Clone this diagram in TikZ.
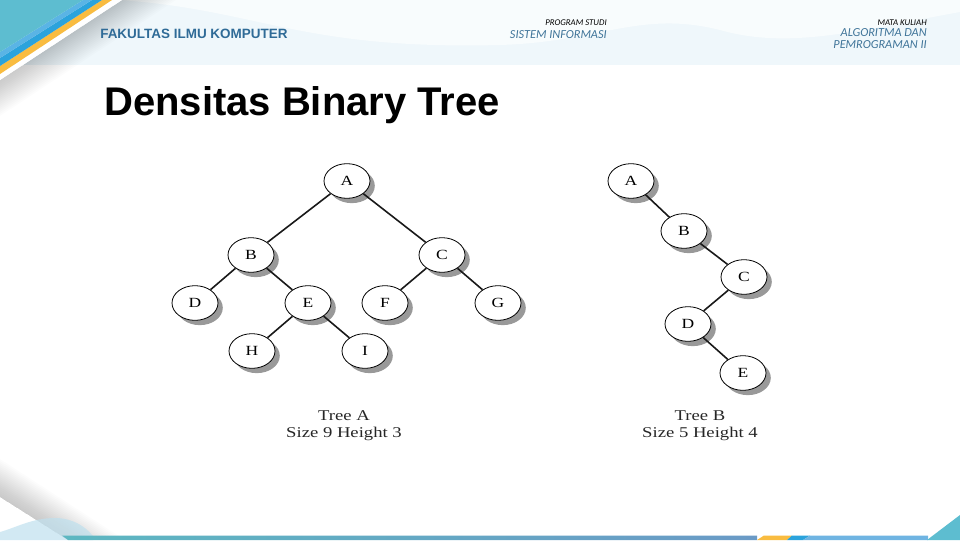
\documentclass[tikz,border=0pt]{standalone}
\usepackage{fontspec}
\setmainfont{Liberation Sans}
\newfontfamily\treefont[FakeStretch=1.25]{Liberation Serif}
\newfontfamily\headfont{Carlito}
\usetikzlibrary{shadows,shapes.geometric}
\definecolor{headblue}{HTML}{2F6B97}
\definecolor{subblue}{HTML}{3F7499}
\definecolor{band}{HTML}{EFF7FB}
\definecolor{bandlight}{HTML}{F8FCFD}
\definecolor{cornerteal}{HTML}{5DBDD0}
\definecolor{cornerlight}{HTML}{5AB4E5}
\definecolor{cornerblue}{HTML}{2BA3DC}
\definecolor{corneryellow}{HTML}{F9BC40}
\definecolor{stripteal}{HTML}{5DB7C1}
\definecolor{stripmid}{HTML}{6A9AC6}
\definecolor{stripblue}{HTML}{6FB4E2}
\definecolor{hill}{HTML}{BFE0EE}
\begin{document}
\begin{tikzpicture}[x=0.75pt,y=-0.75pt,
  treenode/.style={ellipse,draw=black,line width=0.6pt,fill=white,minimum width=34.5pt,minimum height=26pt,inner sep=0pt,font=\treefont\fontsize{10.5}{12}\selectfont,general shadow={fill=black!40,shadow xshift=3.6pt,shadow yshift=-3.6pt}},
  treeedge/.style={line width=1.2pt,black!90},
  caption/.style={font=\treefont\fontsize{11.2}{13}\selectfont,black!85,inner sep=0pt}]

\useasboundingbox (0,0) rectangle (960,540);

% header
\fill[band] (0,0) rectangle (960,65);
\fill[bandlight] (120,0) .. controls (260,10) and (300,50) .. (500,45) .. controls (600,42) and (640,10) .. (720,30) .. controls (790,50) and (860,30) .. (960,12) -- (960,0) -- cycle;

% corner
\foreach \d in {2,4,...,36}
  \fill[black,opacity=0.012] (0,80) -- (122,0) -- (122+1.5*\d,0) -- (0,80+\d) -- cycle;
\fill[white] (0,74) -- (112,0) -- (122,0) -- (0,80) -- cycle;
\fill[corneryellow] (0,66) -- (102,0) -- (112,0) -- (0,74) -- cycle;
\fill[cornerblue] (0,58) -- (92,0) -- (102,0) -- (0,66) -- cycle;
\fill[cornerlight] (0,52) -- (83,0) -- (92,0) -- (0,58) -- cycle;
\fill[cornerteal] (0,0) -- (83,0) -- (0,52) -- cycle;

% footer
\foreach \d in {2,4,...,38}
  \fill[black,opacity=0.012] (0,497) -- (68,540) -- (68+1.5*\d,540) -- (0,497-\d) -- cycle;
\fill[hill,opacity=0.7] (0,532) .. controls (15,528) and (32,518) .. (55,518) .. controls (72,518) and (85,526) .. (93,536) -- (93,540) -- (0,540) -- cycle;
\shade[left color=stripteal,right color=stripmid] (62,535.5) -- (757,535.5) -- (757,540) -- (68,540) -- cycle;
\fill[corneryellow] (757,540) -- (764,535.5) -- (792,535.5) -- (787,540) -- cycle;
\fill[cornerblue] (787,540) -- (792,535.5) -- (810,535.5) -- (803,540) -- cycle;
\fill[stripblue] (803,540) -- (810,535.5) -- (928,535.5) -- (928,540) -- cycle;
\fill[cornerteal] (927,540) -- (960,515) -- (960,540) -- cycle;

% header text
\node[anchor=west,inner sep=0pt,headblue,font=\bfseries\fontsize{10.1}{12}\selectfont] (fak) at (100,34) {FAKULTAS ILMU KOMPUTER};
\node[anchor=east,inner sep=0pt,font=\headfont\itshape\fontsize{6.6}{7}\selectfont] (prodi) at (607,23) {PROGRAM STUDI};
\node[anchor=east,inner sep=0pt,subblue,font=\headfont\itshape\fontsize{9.2}{11}\selectfont] (si) at (607,35) {SISTEM INFORMASI};
\node[anchor=east,inner sep=0pt,font=\headfont\itshape\fontsize{6.6}{7}\selectfont] (mk) at (927,23) {MATA KULIAH};
\node[anchor=east,inner sep=0pt,subblue,font=\headfont\itshape\fontsize{9.2}{11}\selectfont] (algo) at (927,33) {ALGORITMA DAN};
\node[anchor=east,inner sep=0pt,subblue,font=\headfont\itshape\fontsize{9.2}{11}\selectfont] (pem) at (927,45) {PEMROGRAMAN II};

\node[anchor=west,inner sep=0pt,font=\bfseries\fontsize{30}{34}\selectfont] (title) at (104,105) {Densitas Binary Tree};

% tree A
\node[treenode] (aa) at (347,181) {A};
\node[treenode] (ab) at (251,255) {B};
\node[treenode] (ac) at (442,255) {C};
\node[treenode] (ad) at (195,303) {D};
\node[treenode] (ae) at (308,303) {E};
\node[treenode] (af) at (385,303) {F};
\node[treenode] (ag) at (498,303) {G};
\node[treenode] (ah) at (252,351) {H};
\node[treenode] (ai) at (365,351) {I};

\draw[treeedge] (aa) -- (ab);
\draw[treeedge] (aa) -- (ac);
\draw[treeedge] (ab) -- (ad);
\draw[treeedge] (ab) -- (ae);
\draw[treeedge] (ac) -- (af);
\draw[treeedge] (ac) -- (ag);
\draw[treeedge] (ae) -- (ah);
\draw[treeedge] (ae) -- (ai);

\node[caption] (capa) at (344,416) {Tree A};
\node[caption] (sizea) at (344,434) {Size 9 Height 3};

% tree B
\node[treenode] (ba) at (631,181) {A};
\node[treenode] (bb) at (684,231) {B};
\node[treenode] (bc) at (744,277) {C};
\node[treenode] (bd) at (688,324) {D};
\node[treenode] (be) at (743,373) {E};

\draw[treeedge] (ba) -- (bb);
\draw[treeedge] (bb) -- (bc);
\draw[treeedge] (bc) -- (bd);
\draw[treeedge] (bd) -- (be);

\node[caption] (capb) at (700,416) {Tree B};
\node[caption] (sizeb) at (700,434) {Size 5 Height 4};

\end{tikzpicture}
\end{document}
